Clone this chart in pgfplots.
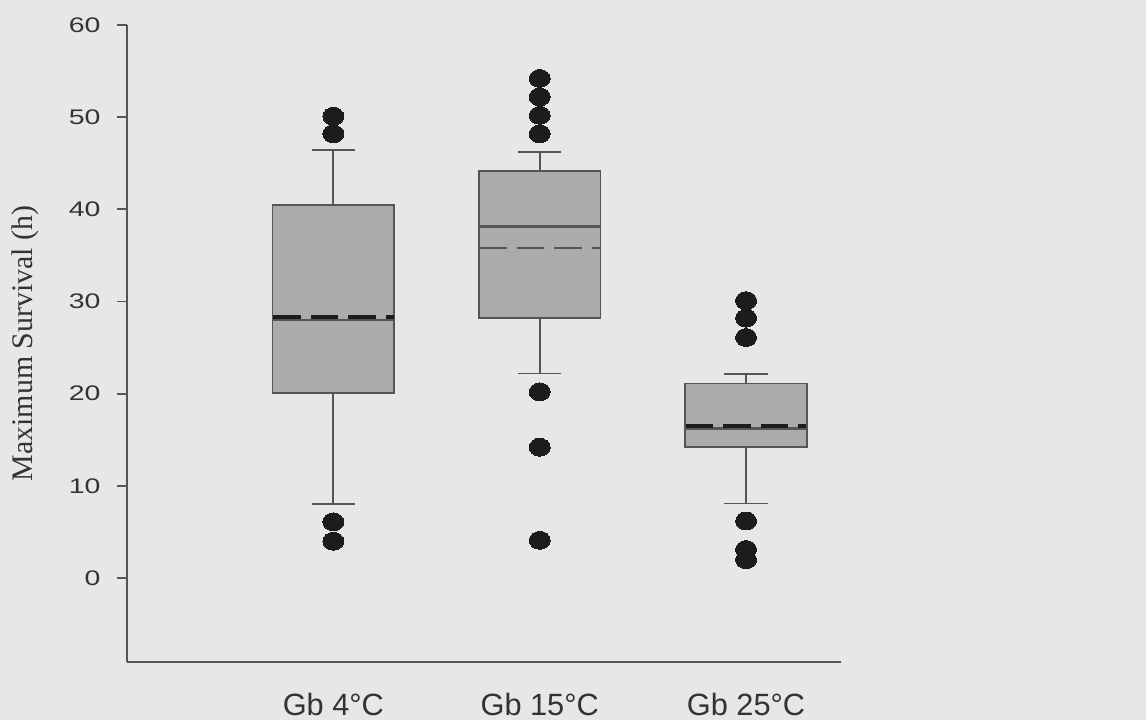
\documentclass[border=0pt]{standalone}
\usepackage{pgfplots}
\pgfplotsset{compat=1.18}
\usepgfplotslibrary{statistics}
\usepackage{fontspec}
\setmainfont{Liberation Sans}
\newfontfamily\timesfont{Liberation Serif}
\definecolor{bg}{HTML}{E7E7E7}
\definecolor{boxfill}{HTML}{ABABAB}
\definecolor{linec}{HTML}{555555}
\definecolor{dotc}{HTML}{1C1C1C}
\definecolor{txt}{HTML}{333333}
\begin{document}
\begin{tikzpicture}
\fill[bg] (0,0) rectangle (22.92cm,14.4cm);
\begin{axis}[
  at={(2.54cm,1.16cm)}, anchor=south west,
  scale only axis, width=14.28cm, height=12.74cm,
  xmin=0, xmax=3.46, ymin=-9.1, ymax=60,
  axis x line*=bottom, axis y line*=left,
  axis line style={-, draw=linec, line width=0.04cm},
  ytick={0,10,20,30,40,50,60},
  xtick={1,2,3},
  xticklabels={Gb 4°C, Gb 15°C, Gb 25°C},
  x tick style={draw=none},
  y tick style={draw=linec, line width=0.035cm},
  tick align=outside, major tick length=0.2cm,
  /pgf/number format/assume math mode=true,
  yticklabel style={font=\fontsize{12}{14}\selectfont, text=txt, xscale=1.35, xshift=-0.12cm},
  xticklabel style={font=\fontsize{17.5}{20}\selectfont, text=txt, yshift=-0.3cm},
  ylabel={\timesfont Maximum Survival (h)},
  every axis y label/.style={at={(axis description cs:-0.143,0.5)}, rotate=90, anchor=center, font=\fontsize{17}{20}\selectfont, text=txt},
  boxplot/draw direction=y,
  boxplot/box extend=0.59,
  boxplot/whisker extend=0.21,
  boxplot/every median/.style={line width=0.055cm},
]
% Gb 4C
\addplot+[boxplot prepared={draw position=1, lower whisker=8, lower quartile=20.1, median=28.0, upper quartile=40.5, upper whisker=46.4},
  draw=linec, fill=boxfill, line width=0.035cm, solid,
  mark=*, mark size=0.21cm, mark options={fill=dotc, draw=dotc, yscale=0.85, line width=0pt}]
  table[row sep=\\, y index=0] {v\\ 50.1\\ 48.2\\ 6.1\\ 4.0\\};
\addplot[dotc, line width=0.07cm, dash pattern=on 0.55cm off 0.2cm] coordinates {(0.708,28.3) (1.292,28.3)};
% Gb 15C
\addplot+[boxplot prepared={draw position=2, lower whisker=22.2, lower quartile=28.2, median=38.1, upper quartile=44.2, upper whisker=46.2},
  draw=linec, fill=boxfill, line width=0.035cm, solid,
  mark=*, mark size=0.21cm, mark options={fill=dotc, draw=dotc, yscale=0.85, line width=0pt}]
  table[row sep=\\, y index=0] {v\\ 54.2\\ 52.2\\ 50.2\\ 48.2\\ 20.2\\ 14.2\\ 4.1\\};
\addplot[linec, line width=0.05cm, dash pattern=on 0.55cm off 0.2cm] coordinates {(1.708,35.8) (2.292,35.8)};
% Gb 25C
\addplot+[boxplot prepared={draw position=3, lower whisker=8.1, lower quartile=14.2, median=16.2, upper quartile=21.1, upper whisker=22.1},
  draw=linec, fill=boxfill, line width=0.035cm, solid,
  mark=*, mark size=0.21cm, mark options={fill=dotc, draw=dotc, yscale=0.85, line width=0pt}]
  table[row sep=\\, y index=0] {v\\ 30.1\\ 28.2\\ 26.1\\ 6.2\\ 3.1\\ 2.0\\};
\addplot[dotc, line width=0.07cm, dash pattern=on 0.55cm off 0.2cm] coordinates {(2.708,16.5) (3.292,16.5)};
\end{axis}
\end{tikzpicture}
\end{document}
